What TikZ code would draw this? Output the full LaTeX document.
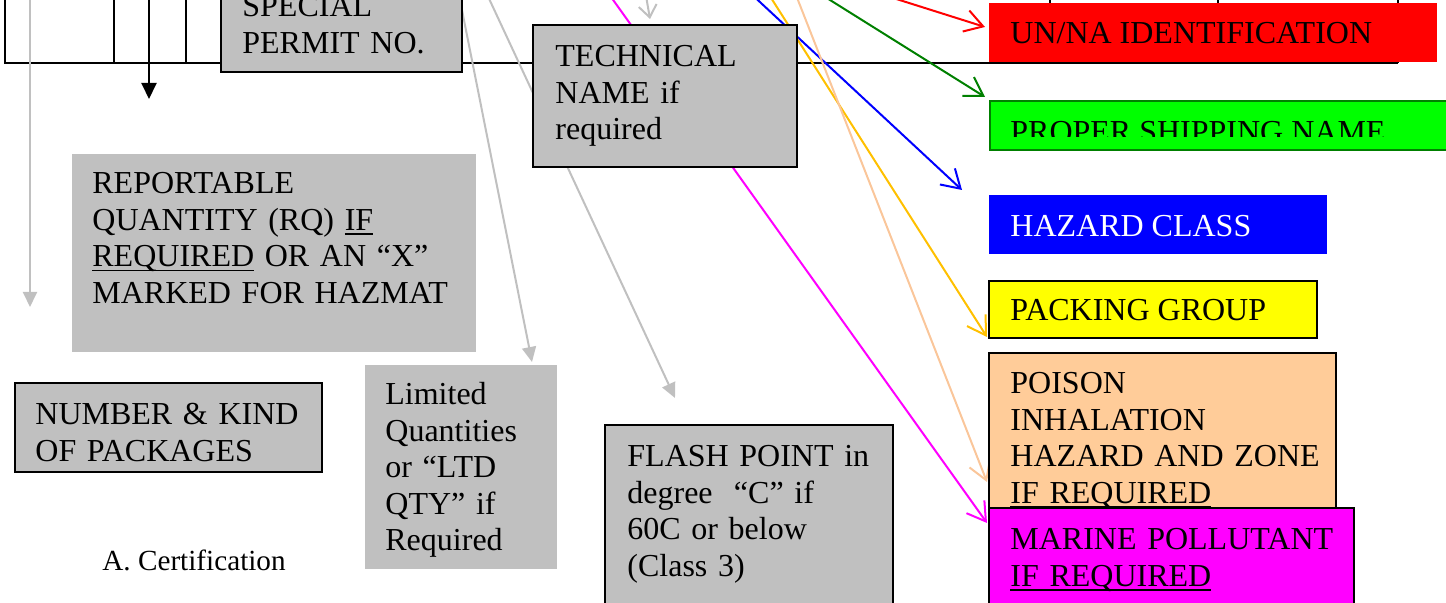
\documentclass[tikz,border=0pt]{standalone}
\usepackage{fontspec}
\setmainfont{Liberation Serif}
\usetikzlibrary{arrows.meta}
\newsavebox\myulbox
\newcommand\myul[1]{\leavevmode\sbox\myulbox{#1}\rlap{\rule[-2.4pt]{\wd\myulbox}{0.8pt}}\usebox\myulbox}
\definecolor{boxgray}{HTML}{C0C0C0}
\definecolor{linegray}{HTML}{C0C0C0}
\definecolor{unred}{HTML}{FF0000}
\definecolor{psgreen}{HTML}{00FF00}
\definecolor{darkgreen}{HTML}{008000}
\definecolor{hzblue}{HTML}{0000FF}
\definecolor{pgyellow}{HTML}{FFFF00}
\definecolor{gold}{HTML}{FFC000}
\definecolor{peach}{HTML}{FFCC99}
\definecolor{peachline}{HTML}{FAC69A}
\definecolor{magentabox}{HTML}{FF00FF}
\begin{document}
\begin{tikzpicture}[x=0.5pt,y=-0.5pt,
  every node/.style={font=\fontsize{16}{18.3}\selectfont},
  tline/.style={line width=1pt,black},
  plainbox/.style={draw=none,anchor=north west,inner sep=0pt,outer sep=0pt},
  framebox/.style={draw=black,line width=1pt,anchor=north west,inner sep=0pt,outer sep=0pt},
  txt/.style={anchor=north west,inner sep=0pt,text width=230pt,align=left},
  oneline/.style={anchor=base west,inner sep=0pt},
  grayarrow/.style={draw=linegray,line width=1pt,-{Triangle[length=7.5pt,width=7pt]}},
  barbarrow/.style={line width=1pt,-{Straight Barb[length=9pt,width=11pt]}},
]
\clip (0,0) rectangle (1446,603);
% table lines
\coordinate (tl0) at (5,-5); \coordinate (tl1) at (5,63);
\coordinate (tr1) at (1398,63);
\draw[tline] (tl0) -- (tl1) -- (tr1);
\foreach \xx in {114,186,1050,1218,1398}{\draw[tline] (\xx,-5) -- (\xx,63);}
% black arrow
\coordinate (bkS) at (149,-5); \coordinate (bkE) at (149,99);
\draw[line width=1pt,-{Triangle[length=8pt,width=7.5pt]}] (bkS) -- (bkE);
% gray arrows
\coordinate (gvS) at (30,-5); \coordinate (gvE) at (30,307);
\draw[grayarrow] (gvS) -- (gvE);
\coordinate (g1S) at (458,-10); \coordinate (g1E) at (532,362);
\draw[grayarrow] (g1S) -- (g1E);
\coordinate (g2S) at (485,-10); \coordinate (g2E) at (675,398);
\draw[grayarrow] (g2S) -- (g2E);
\coordinate (g3S) at (645,-10); \coordinate (g3E) at (650,19);
\draw[draw=linegray,line width=1pt,-{Straight Barb[length=6pt,width=9pt]}] (g3S) -- (g3E);
% coloured arrows
\coordinate (rS) at (890,-3); \coordinate (rE) at (985,27);
\draw[barbarrow,unred] (rS) -- (rE);
\coordinate (gS) at (814,-10); \coordinate (gE) at (985,97);
\draw[barbarrow,darkgreen] (gS) -- (gE);
\coordinate (bS) at (747,-10); \coordinate (bE) at (962,190);
\draw[barbarrow,hzblue] (bS) -- (bE);
\coordinate (yS) at (766,-10); \coordinate (yE) at (987,337);
\draw[barbarrow,gold] (yS) -- (yE);
\coordinate (pS) at (794,-10); \coordinate (pE) at (987,482);
\draw[barbarrow,peachline] (pS) -- (pE);
\coordinate (mS) at (606,-10); \coordinate (mE) at (987,523);
\draw[barbarrow,magentabox] (mS) -- (mE);
% left / middle boxes
\node[framebox,fill=boxgray,minimum width=241*0.5pt,minimum height=100*0.5pt] (special) at (221,-28) {};
\node[txt] (specialt) at (242,-9.6) {\strut SPECIAL\\PERMIT NO.};
\node[framebox,fill=boxgray,minimum width=264*0.5pt,minimum height=142*0.5pt] (tech) at (533,25) {};
\node[txt] (techt) at (555,40.4) {\strut TECHNICAL\\NAME if\\required};
\node[plainbox,fill=boxgray,minimum width=404*0.5pt,minimum height=198*0.5pt] (rq) at (72,154) {};
\node[txt] (rqt) at (92,167.4) {\strut REPORTABLE\\QUANTITY (RQ) \myul{IF}\\\myul{REQUIRED} OR AN “X”\\MARKED FOR HAZMAT};
\node[framebox,fill=boxgray,minimum width=307*0.5pt,minimum height=89*0.5pt] (num) at (15,383) {};
\node[txt] (numt) at (35,398.4) {\strut NUMBER \& KIND\\OF PACKAGES};
\node[oneline,font=\fontsize{14.6}{17}\selectfont] (cert) at (102,571) {A. Certification};
\node[plainbox,fill=boxgray,minimum width=192*0.5pt,minimum height=204*0.5pt] (ltd) at (365,365) {};
\node[txt] (ltdt) at (385,378.4) {\strut Limited\\Quantities\\or “LTD\\QTY” if\\Required};
\node[framebox,fill=boxgray,minimum width=288*0.5pt,minimum height=200*0.5pt] (flash) at (605,425) {};
\node[txt] (flasht) at (627,440.4) {\strut FLASH POINT in\\degree \ “C” if\\60C or below\\(Class 3)};
% right boxes
\node[plainbox,fill=unred,minimum width=448*0.5pt,minimum height=59*0.5pt] (un) at (989,3) {};
\node[oneline] (unt) at (1010,44) {UN/NA IDENTIFICATION};
\node[draw=darkgreen,line width=1pt,fill=psgreen,anchor=north west,inner sep=0pt,minimum width=470*0.5pt,minimum height=49*0.5pt] (psn) at (989,100) {};
\begin{scope}
\clip (989,100) rectangle (1446,137);
\node[oneline] (psnt) at (1010,143) {PROPER SHIPPING NAME};
\end{scope}
\node[plainbox,fill=hzblue,minimum width=338*0.5pt,minimum height=59*0.5pt] (hz) at (989,195) {};
\node[oneline,text=white] (hzt) at (1010,237) {HAZARD CLASS};
\node[framebox,fill=pgyellow,minimum width=328*0.5pt,minimum height=57*0.5pt] (pg) at (989,281) {};
\node[oneline] (pgt) at (1010,321) {PACKING GROUP};
\node[framebox,fill=peach,minimum width=347*0.5pt,minimum height=170*0.5pt] (pih) at (989,353) {};
\node[txt] (piht) at (1010,367.4) {\strut POISON\\INHALATION\\HAZARD AND ZONE\\\myul{IF REQUIRED}};
\node[framebox,fill=magentabox,minimum width=365*0.5pt,minimum height=120*0.5pt] (mp) at (989,508) {};
\node[txt] (mpt) at (1010,523.4) {\strut MARINE POLLUTANT\\\myul{IF REQUIRED}};
\end{tikzpicture}
\end{document}
